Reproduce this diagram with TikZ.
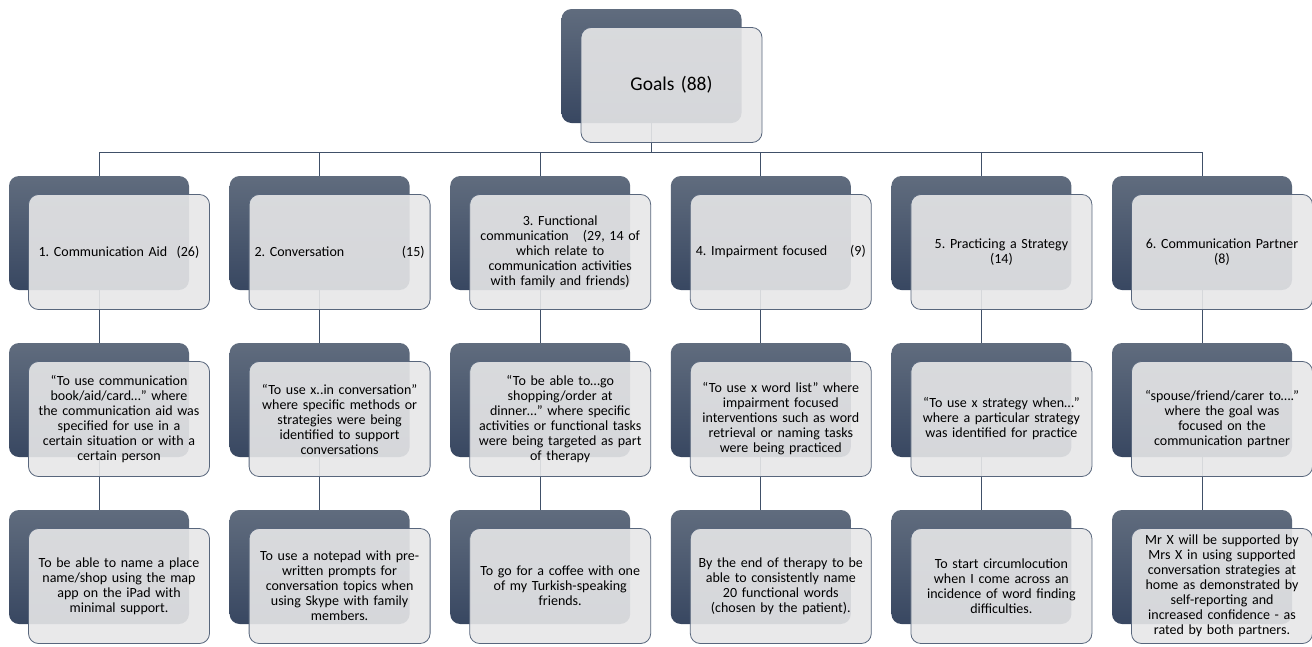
\documentclass[tikz,border=0pt]{standalone}
\usepackage{fontspec}
\setmainfont{Carlito}
\usetikzlibrary{positioning,backgrounds}
\frenchspacing

\definecolor{slatetop}{RGB}{96,108,126}
\definecolor{slatebot}{RGB}{56,71,97}
\definecolor{panel}{RGB}{231,231,232}
\definecolor{rim}{RGB}{88,102,124}
\definecolor{wirecol}{RGB}{64,80,104}

\begin{document}
\begin{tikzpicture}
			[node distance=167pt,on grid,
			back/.style={rounded corners=10pt,top color=slatetop,bottom color=slatebot,minimum width=180pt,minimum height=114pt,inner sep=0pt},
			front/.style={rounded corners=10pt,draw=rim,line width=0.8pt,fill=panel,fill opacity=0.9,text opacity=1,
				minimum width=181pt,minimum height=115pt,text width=170pt,inner xsep=5.5pt,inner ysep=2pt,align=center,
				font=\fontsize{14}{15}\selectfont},
			wire/.style={draw=wirecol,line width=0.8pt}]
			
			\useasboundingbox (0,0) rectangle (1312pt,-646pt);
			
			% dark back panels
			\node [back](g) at (651.5pt,-66pt) {};
			
			\node [back](cat1) [below left=167pt and 552.5pt of g] {};
			\node [back](cat2) [right=220.6pt of cat1] {};
			\node [back](cat3) [right=220.6pt of cat2] {};
			\node [back](cat4) [right=220.6pt of cat3] {};
			\node [back](cat5) [right=220.6pt of cat4] {};
			\node [back](cat6) [right=220.6pt of cat5] {};
			
			\node [back](des1) [below=of cat1] {};
			\node [back](des2) [below=of cat2] {};
			\node [back](des3) [below=of cat3] {};
			\node [back](des4) [below=of cat4] {};
			\node [back](des5) [below=of cat5] {};
			\node [back](des6) [below=of cat6] {};
			
			\node [back](ex1) [below=of des1] {};
			\node [back](ex2) [below=of des2] {};
			\node [back](ex3) [below=of des3] {};
			\node [back](ex4) [below=of des4] {};
			\node [back](ex5) [below=of des5] {};
			\node [back](ex6) [below=of des6] {};
			
			\begin{scope}[on background layer]
				\coordinate (bus) at ([yshift=-29pt]g.south);
				\draw [wire] (g.south) -- (bus) -| (cat1.north);
				\draw [wire] (bus) -| (cat2.north);
				\draw [wire] (bus) -| (cat3.north);
				\draw [wire] (bus) -| (cat4.north);
				\draw [wire] (bus) -| (cat5.north);
				\draw [wire] (bus) -| (cat6.north);
				\draw [wire] (cat1.south) -- (des1.north) (des1.south) -- (ex1.north);
				\draw [wire] (cat2.south) -- (des2.north) (des2.south) -- (ex2.north);
				\draw [wire] (cat3.south) -- (des3.north) (des3.south) -- (ex3.north);
				\draw [wire] (cat4.south) -- (des4.north) (des4.south) -- (ex4.north);
				\draw [wire] (cat5.south) -- (des5.north) (des5.south) -- (ex5.north);
				\draw [wire] (cat6.south) -- (des6.north) (des6.south) -- (ex6.north);
			\end{scope}
			
			% light front panels
			\node [front,font=\fontsize{19.5}{23}\selectfont](gf) [below right=19pt and 20pt of g] {Goals (88)};
			
			\node [front](cat1f) [below right=19pt and 20pt of cat1] {1. Communication Aid\ \ (26)};
			\node [front](cat2f) [below right=19pt and 20pt of cat2] {2. Conversation\hfill(15)};
			\node [front](cat3f) [below right=19pt and 20pt of cat3] {3. Functional\\communication\ \ \ (29, 14 of\\which relate to\\communication activities\\with family and friends)};
			\node [front](cat4f) [below right=19pt and 20pt of cat4] {4. Impairment focused\hfill(9)};
			\node [front](cat5f) [below right=19pt and 20pt of cat5] {5. Practicing a Strategy\\(14)};
			\node [front](cat6f) [below right=19pt and 20pt of cat6] {6. Communication Partner\\(8)};
			
			\node [front](des1f) [below right=19pt and 20pt of des1] {“To use communication\\book/aid/card…” where\\the communication aid was\\specified for use in a\\certain situation or with a\\certain person};
			\node [front](des2f) [below right=19pt and 20pt of des2] {“To use x..in conversation”\\where specific methods or\\strategies were being\\identified to support\\conversations};
			\node [front](des3f) [below right=19pt and 20pt of des3] {“To be able to…go\\shopping/order at\\dinner…” where specific\\activities or functional tasks\\were being targeted as part\\of therapy};
			\node [front](des4f) [below right=19pt and 20pt of des4] {“To use x word list” where\\impairment focused\\interventions such as word\\retrieval or naming tasks\\were being practiced};
			\node [front](des5f) [below right=19pt and 20pt of des5] {“To use x strategy when…”\\where a particular strategy\\was identified for practice};
			\node [front](des6f) [below right=19pt and 20pt of des6] {“spouse/friend/carer to….”\\where the goal was\\focused on the\\communication partner};
			
			\node [front](ex1f) [below right=19pt and 20pt of ex1] {To be able to name a place\\name/shop using the map\\app on the iPad with\\minimal support.};
			\node [front](ex2f) [below right=19pt and 20pt of ex2] {To use a notepad with pre-\\written prompts for\\conversation topics when\\using Skype with family\\members.};
			\node [front](ex3f) [below right=19pt and 20pt of ex3] {To go for a coffee with one\\of my Turkish-speaking\\friends.};
			\node [front](ex4f) [below right=19pt and 20pt of ex4] {By the end of therapy to be\\able to consistently name\\20 functional words\\(chosen by the patient).};
			\node [front](ex5f) [below right=19pt and 20pt of ex5] {To start circumlocution\\when I come across an\\incidence of word finding\\difficulties.};
			\node [front](ex6f) [below right=19pt and 20pt of ex6] {Mr X will be supported by\\Mrs X in using supported\\conversation strategies at\\home as demonstrated by\\self-reporting and\\increased confidence - as\\rated by both partners.};
			
\end{tikzpicture}
\end{document}
